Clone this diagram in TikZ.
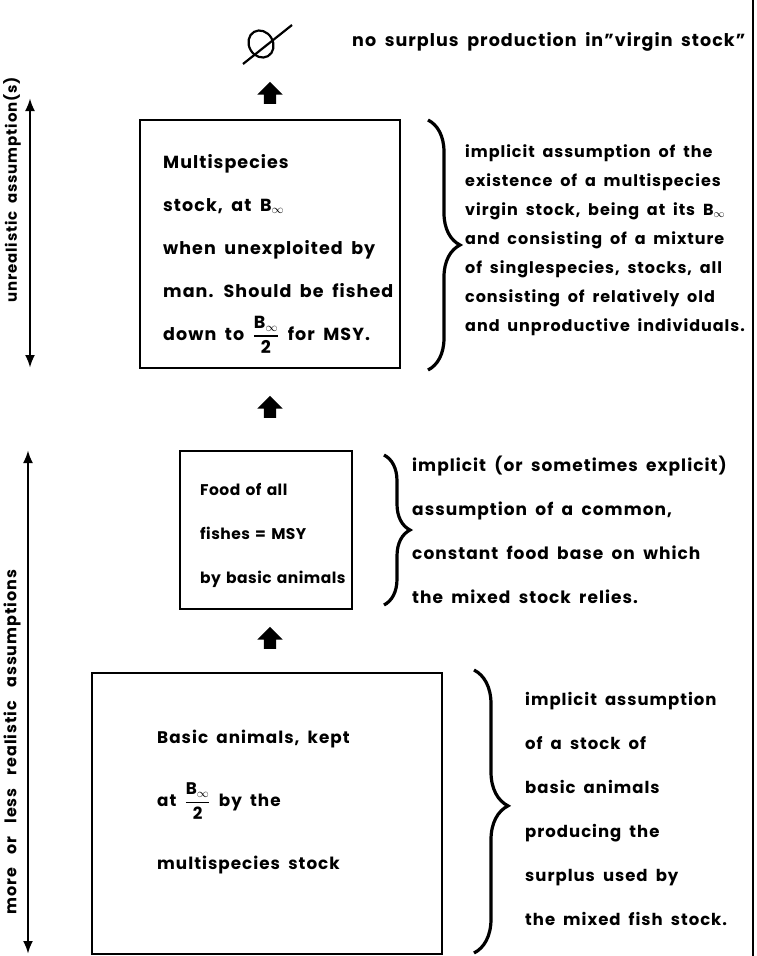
\documentclass[tikz,border=0pt]{standalone}
\usepackage{amsmath}
\usepackage{fontspec}
\setmainfont{Poppins}[LetterSpace=6, WordSpace=1.8]
\newfontfamily\widefont{Poppins}[LetterSpace=6, WordSpace=3]
\newfontfamily\tightfont{Poppins}[LetterSpace=3, WordSpace=1.4]
\usetikzlibrary{arrows.meta,shapes.arrows,decorations.pathreplacing}
\newcommand{\bhalf}{$\genfrac{}{}{1.3pt}{0}{\mbox{B}_{\infty}}{\mbox{2}}$}
\newcommand{\binf}{B$_{\infty}$}
\begin{document}
\begin{tikzpicture}[x=1pt,y=-1pt,
  txt/.style={font=\bfseries\fontsize{16}{29}\selectfont, align=left, inner sep=0pt, anchor=north west},
  box/.style={draw, line width=2.2pt, inner sep=0pt},
  uparrow/.style={single arrow, fill=black, draw=none, rotate=90, minimum height=22pt,
    minimum width=25pt, single arrow head extend=6.5pt, single arrow head indent=0pt, inner sep=6pt},
  brc/.style={decorate, decoration={brace, amplitude=32pt}, line width=3.2pt},
  dblarrow/.style={line width=2.8pt, {Latex[length=13pt,width=10pt]}-{Latex[length=13pt,width=10pt]}},
  side/.style={font=\bfseries\fontsize{15}{16}\selectfont, rotate=90, inner sep=0pt}
]
\useasboundingbox (0,0) rectangle (756,956);
% page edge
\draw[line width=1.5pt] (753,0) -- (753,956);

% top: empty set and note
\coordinate (phi) at (261,44);
\draw[line width=2.2pt, rotate around={30:(phi)}] (phi) ellipse[x radius=12pt, y radius=14pt];
\draw[line width=2.2pt] (243,64) -- (292,25);
\node[txt, anchor=west, font=\bfseries\fontsize{17.5}{20}\selectfont] (note) at (352,42) {no surplus production in"virgin stock"};

% arrows between levels
\node[uparrow] (a1) at (270,96) {};
\node[uparrow] (a2) at (270,410) {};
\node[uparrow] (a3) at (270,641) {};

% boxes
\node[box, minimum width=260pt, minimum height=248pt] (b1) at (270,244) {};
\node[box, minimum width=172pt, minimum height=158pt] (b2) at (266,530) {};
\node[box, minimum width=350pt, minimum height=281pt] (b3) at (267,813.5) {};

% box texts
\node[txt, font=\bfseries\fontsize{17.5}{43}\selectfont] (t1) at (163,154)
  {Multispecies\\stock, at \binf\\when unexploited by\\man. Should be fished\\down to \bhalf\ for MSY.};
\node[txt, font=\tightfont\bfseries\fontsize{15.5}{44}\selectfont, align=left] (t2) at (200,483)
  {Food of all\\fishes = MSY\\by basic animals};
\node[txt, font=\bfseries\fontsize{16.8}{63}\selectfont] (t3) at (157,730)
  {Basic animals, kept\\at \bhalf\ by the\\multispecies stock};

% braces
\draw[brc] (428,120) -- (428,370) coordinate (br1);
\draw[brc, decoration={brace, amplitude=26pt}] (384,455) -- (384,605) coordinate (br2);
\draw[brc, decoration={brace, amplitude=34pt, aspect=0.48}] (474,670) -- (474,953) coordinate (br3);

% right-hand texts
\node[txt] (r1) at (465,144)
  {implicit assumption of the\\existence of a multispecies\\virgin stock, being at its \binf\\and consisting of a mixture\\of singlespecies, stocks, all\\consisting of relatively old\\and unproductive individuals.};
\node[txt, font=\bfseries\fontsize{17}{44}\selectfont] (r2) at (412,456)
  {implicit (or sometimes explicit)\\assumption of a common,\\constant food base on which\\the mixed stock relies.};
\node[txt, font=\bfseries\fontsize{16.5}{44}\selectfont] (r3) at (525,692)
  {implicit assumption\\of a stock of\\basic animals\\producing the\\surplus used by\\the mixed fish stock.};

% side double arrows and labels
\coordinate (u1) at (30,98);
\coordinate (u2) at (30,368);
\draw[dblarrow] (u1) -- (u2);
\node[side] (s1) at (12,190) {unrealistic assumption(s)};
\coordinate (m1) at (28,450);
\coordinate (m2) at (28,954);
\draw[dblarrow] (m1) -- (m2);
\node[side, font=\widefont\bfseries\fontsize{16}{17}\selectfont] (s2) at (12,742) {more or less realistic assumptions};
\end{tikzpicture}
\end{document}
